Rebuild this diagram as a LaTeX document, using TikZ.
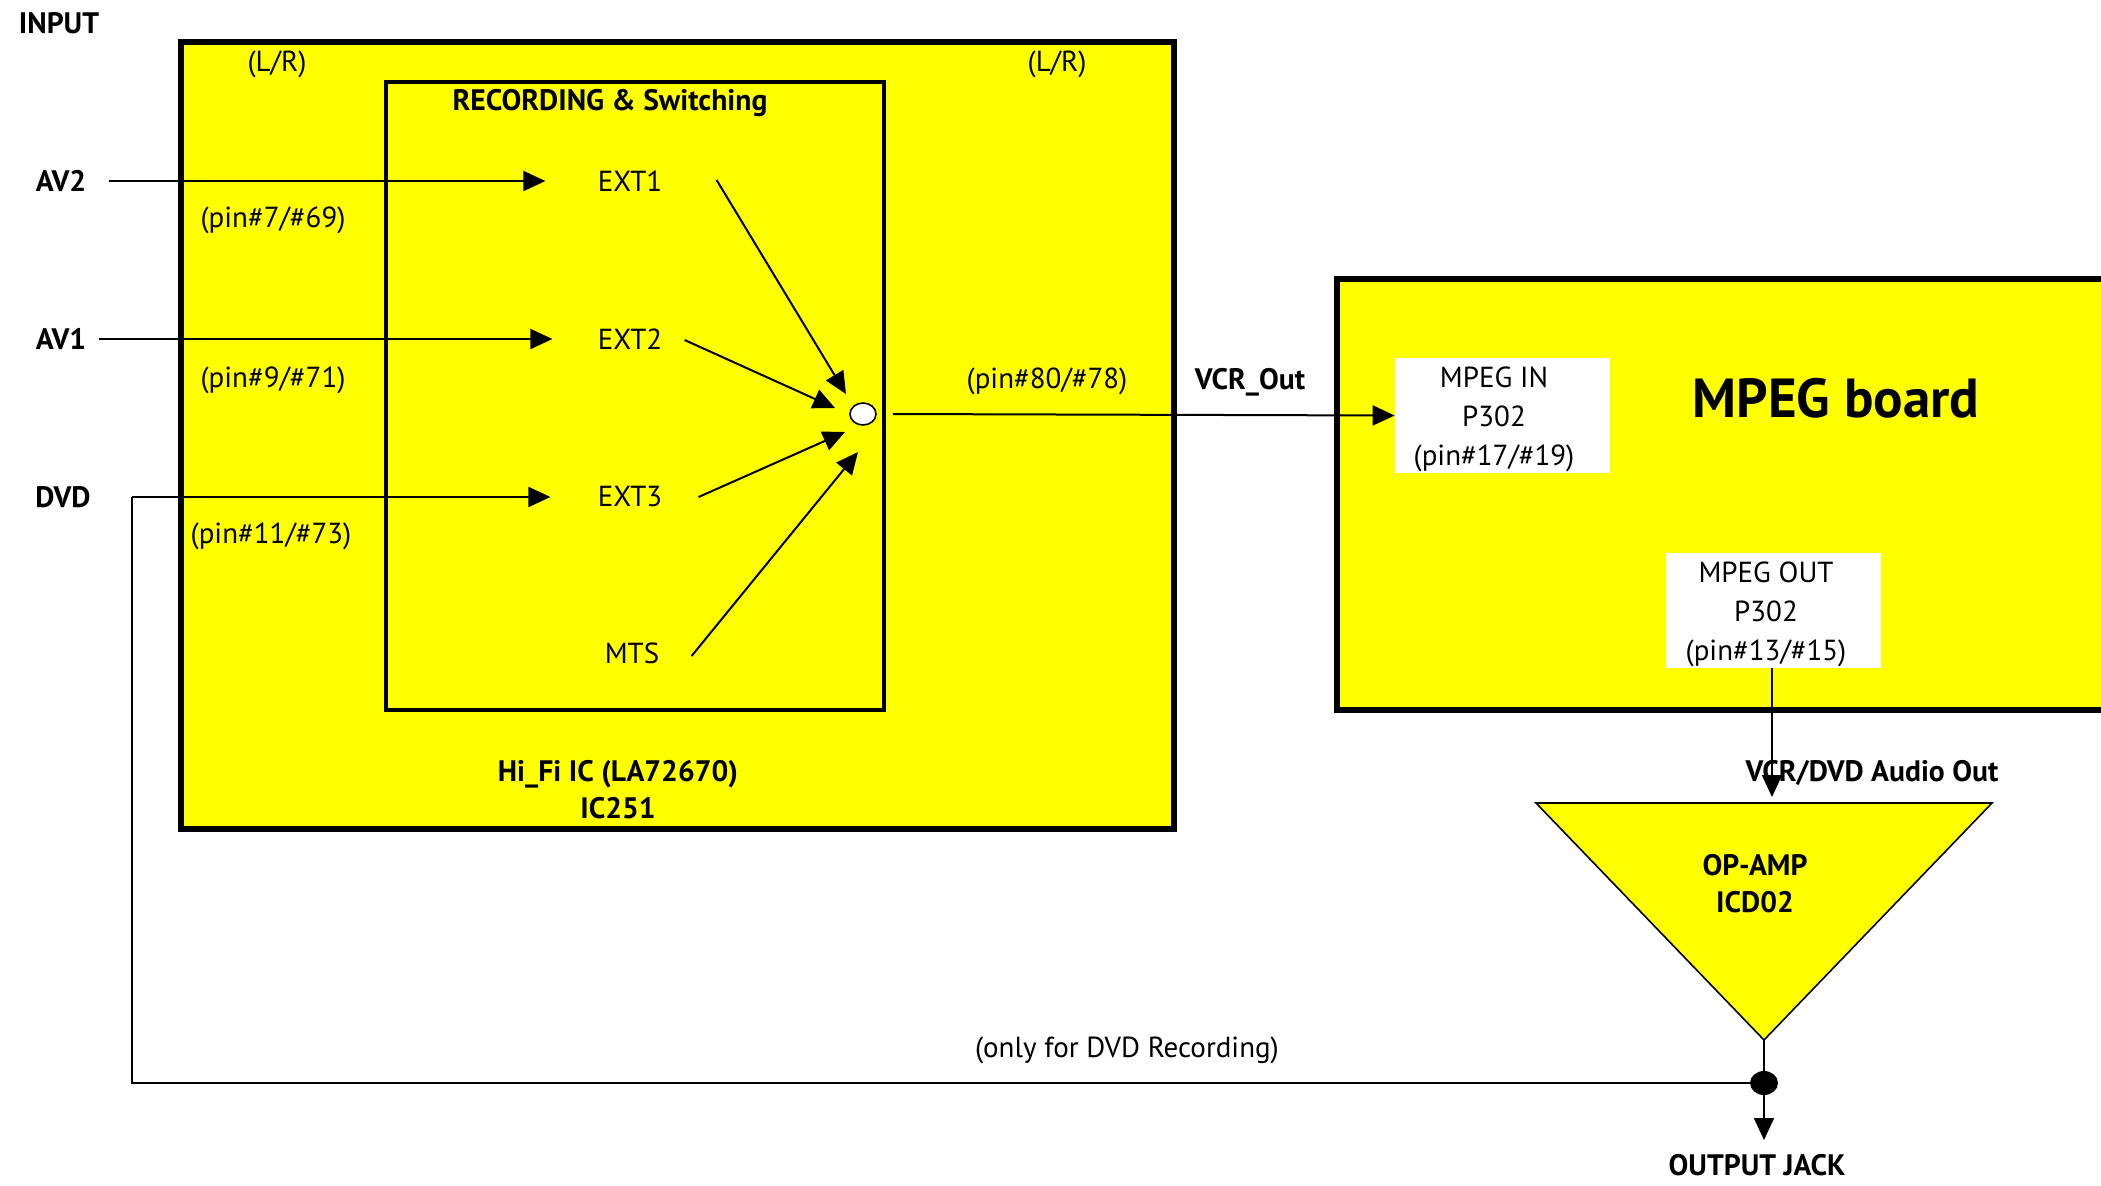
\documentclass[tikz,border=0pt]{standalone}
\usepackage{fontspec}
\setmainfont{PT Sans}
\usetikzlibrary{arrows.meta,calc,shapes.geometric}
\definecolor{chipyellow}{RGB}{255,255,0}
\begin{document}
\begin{tikzpicture}[x=0.5pt,y=-0.5pt,
  txt/.style={inner sep=0pt, font=\fontsize{14.5}{19.5}\selectfont, align=center},
  btxt/.style={inner sep=0pt, font=\bfseries\fontsize{14.8}{18.5}\selectfont, align=center},
  chip/.style={draw, fill=chipyellow, line width=2.6pt, inner sep=0pt},
  subbox/.style={draw, line width=1.6pt, inner sep=0pt},
  pinbox/.style={fill=white, inner sep=0pt, minimum width=107.5pt, minimum height=57.5pt},
  arr/.style={-{Triangle[length=11pt,width=10pt]}, line width=1pt},
  wire/.style={line width=1pt},
]
\clip (0,0) rectangle (2101,1185);
\fill[white] (0,0) rectangle (2101,1185);

% boxes
\node[chip, minimum width=496.5pt, minimum height=393.5pt] (ic) at (677.5,435.5) {};
\node[subbox, minimum width=249pt, minimum height=314pt] (rec) at (635,396) {};
\node[chip, minimum width=401.5pt, minimum height=215.5pt] (mpeg) at (1738.5,494.5) {};
\node[pinbox] (mpegin) at (1502.5,415.5) {};
\node[txt] (mpegintext) at (1494,419) {MPEG IN\\P302\\(pin\#17/\#19)};
\node[pinbox] (mpegout) at (1773.5,610.5) {};
\node[txt] (mpegouttext) at (1766,614) {MPEG OUT\\P302\\(pin\#13/\#15)};
\node[inner sep=0pt, font=\bfseries\fontsize{27.5}{30}\selectfont] (mpegtitle) at (1836,398) {MPEG board};

% op-amp triangle
\coordinate (triTL) at (1536,803);
\coordinate (triTR) at (1992,803);
\coordinate (triB) at (1764,1040);
\draw[fill=chipyellow, line width=0.8pt, line join=miter] (triTL) -- (triTR) -- (triB) -- cycle;
\node[btxt] (opamp) at (1755,884) {OP-AMP\\ICD02};

% labels
\node[btxt] (input) at (59,23) {INPUT};
\node[txt] (lr1) at (277,64) {(L/R)};
\node[txt] (lr2) at (1057,64) {(L/R)};
\node[btxt] (rectitle) at (610,103) {RECORDING \& Switching};
\node[btxt] (av2) at (61,181) {AV2};
\node[btxt] (av1) at (61,339) {AV1};
\node[btxt] (dvd) at (63,497) {DVD};
\node[txt] (ext1) at (630,181) {EXT1};
\node[txt] (ext2) at (630,339) {EXT2};
\node[txt] (ext3) at (630,497) {EXT3};
\node[txt] (mts) at (632,653) {MTS};
\node[txt] (pin7) at (273,220) {(pin\#7/\#69)};
\node[txt] (pin9) at (273,380) {(pin\#9/\#71)};
\node[txt] (pin11) at (271,536) {(pin\#11/\#73)};
\node[txt] (pin80) at (1047,381) {(pin\#80/\#78)};
\node[btxt] (vcrout) at (1250,382) {VCR\_Out};
\node[btxt] (hifi) at (618,790) {Hi\_Fi IC (LA72670)\\IC251};
\node[txt] (dvdrec) at (1127,1050) {(only for DVD Recording)};
\node[btxt] (audioout) at (1872,773) {VCR/DVD Audio Out};
\node[btxt] (jack) at (1757,1165) {OUTPUT JACK};

% summing point
\node[ellipse, draw, fill=white, line width=0.8pt, minimum width=13pt, minimum height=11pt, inner sep=0pt] (sum) at (863,414) {};

% input wires
\draw[arr] ($(av2.east)+(22,0)$) -- ($(ext1.west)+(-52,0)$);
\draw[arr] ($(av1.east)+(12,0)$) -- ($(ext2.west)+(-45,0)$);
\coordinate (dvdc) at (132,497);
\draw[arr] (dvdc) -- ($(ext3.west)+(-47,0)$);

% switch arrows
\draw[arr] ($(ext1.east)+(54,-1)$) -- ($(sum.center)+(-17,-20)$);
\draw[arr] ($(ext2.east)+(22,1)$) -- ($(sum.center)+(-28,-6)$);
\draw[arr] ($(ext3.east)+(36,0)$) -- ($(sum.center)+(-18,18)$);
\draw[arr] ($(mts.east)+(32,3)$) -- ($(sum.center)+(-5,38)$);

% output of IC to MPEG
\draw[arr] ($(sum.east)+(16,0)$) -- (mpegin.west);

% MPEG out to op-amp
\coordinate (opin) at (1772,797);
\draw[arr] (mpegout.south -| opin) -- (opin);

% op-amp to jack
\node[ellipse, fill=black, minimum width=14pt, minimum height=12pt, inner sep=0pt] (jn) at (1764,1083) {};
\draw[wire] (triB) -- (jn);
\coordinate (jackin) at (1764,1140);
\draw[arr] (jn) -- (jackin);

% DVD bypass
\draw[line width=1.2pt] (dvdc) |- (jn);
\end{tikzpicture}
\end{document}
